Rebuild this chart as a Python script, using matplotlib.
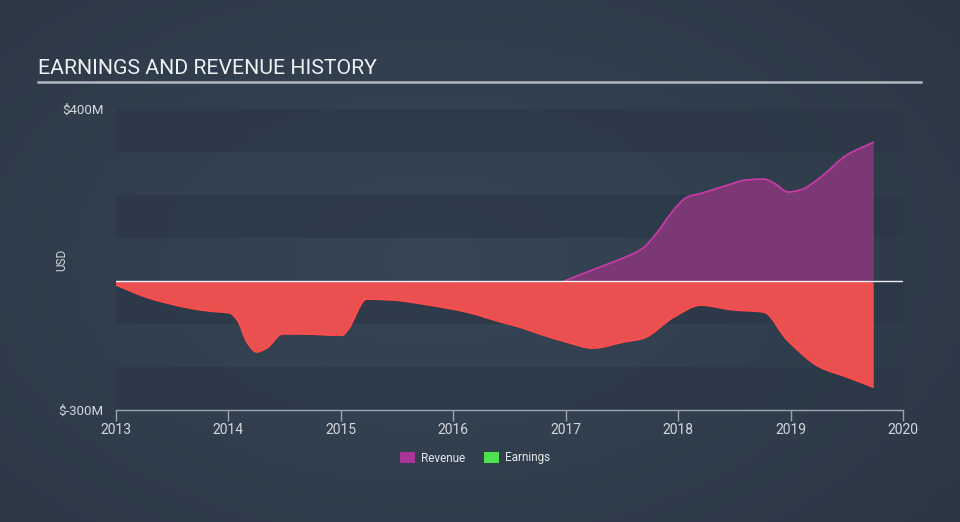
import numpy as np
import matplotlib
matplotlib.use("Agg")
import matplotlib.pyplot as plt
from matplotlib.patches import Rectangle, PathPatch
from matplotlib.path import Path

plt.rcParams['font.family'] = ['Roboto', 'DejaVu Sans']

# ---- data (USD millions) ----
earn_t = [2013.00, 2013.30, 2013.66, 2013.84, 2014.01, 2014.08, 2014.17, 2014.25, 2014.34,
          2014.48, 2014.64, 2015.01, 2015.06, 2015.23, 2015.46, 2015.79, 2016.12, 2016.42,
          2016.59, 2016.77, 2017.01, 2017.24, 2017.51, 2017.69, 2017.96, 2018.20, 2018.49,
          2018.76, 2018.97, 2019.26, 2019.50, 2019.74]
earn_v = [-9, -40, -63, -70, -74, -91, -144, -165, -156,
          -123, -123, -126, -114, -42, -44, -56, -72, -95,
          -107, -123, -142, -156, -142, -133, -84, -56, -67,
          -72, -137, -200, -223, -247]
rev_t = [2016.99, 2017.24, 2017.57, 2017.69, 2017.81, 2017.96, 2018.08, 2018.22, 2018.44,
         2018.61, 2018.76, 2018.85, 2018.98, 2019.09, 2019.26, 2019.50, 2019.74]
rev_v = [0, 26, 60, 77, 112, 165, 195, 205, 223,
         235, 237, 228, 207, 212, 240, 293, 323]
year_ticks = [2013, 2014, 2015, 2016, 2017, 2018, 2019, 2020]
y_labels = {400: "$400M", -300: "$-300M"}


def smooth_path_codes(t, v):
    """Catmull-Rom style Bezier segments through the data points."""
    t = np.asarray(t, float)
    v = np.asarray(v, float)
    n = len(t)
    verts = [(t[0], v[0])]
    codes = [Path.MOVETO]
    for i in range(n - 1):
        # tangents (monotone-x)
        def slope(k):
            if k == 0:
                return (v[1] - v[0]) / (t[1] - t[0])
            if k == n - 1:
                return (v[-1] - v[-2]) / (t[-1] - t[-2])
            s1 = (v[k] - v[k - 1]) / (t[k] - t[k - 1])
            s2 = (v[k + 1] - v[k]) / (t[k + 1] - t[k])
            if s1 * s2 <= 0:
                return 0.0
            return 2 / (1 / s1 + 1 / s2)
        h = t[i + 1] - t[i]
        m0, m1 = slope(i), slope(i + 1)
        verts += [(t[i] + h / 3, v[i] + m0 * h / 3),
                  (t[i + 1] - h / 3, v[i + 1] - m1 * h / 3),
                  (t[i + 1], v[i + 1])]
        codes += [Path.CURVE4] * 3
    return verts, codes


def draw_area(ax, t, v, fill, line):
    verts, codes = smooth_path_codes(t, v)
    ax.add_patch(PathPatch(Path(verts, codes), fill=False, edgecolor=line, lw=1.3, zorder=3))
    fv = verts + [(t[-1], 0), (t[0], 0), (t[0], v[0])]
    fc = codes + [Path.LINETO, Path.LINETO, Path.CLOSEPOLY]
    ax.add_patch(PathPatch(Path(fv, fc), facecolor=fill, edgecolor='none', lw=0, zorder=2))


W, H = 960, 522
fig = plt.figure(figsize=(W / 100, H / 100), dpi=100)

# background gradient
bg = fig.add_axes([0, 0, 1, 1], zorder=-10)
gx = np.linspace(0, 1, 200)
gy = np.linspace(0, 1, 120)
X, Y = np.meshgrid(gx, gy)
d = np.clip(1 - np.sqrt(((X - 0.45) / 0.7) ** 2 + ((Y - 0.5) / 0.8) ** 2), 0, 1)
c0 = np.array([0x2c, 0x37, 0x45]) / 255
c1 = np.array([0x36, 0x46, 0x56]) / 255
img = c0[None, None, :] + (c1 - c0)[None, None, :] * d[..., None]
bg.imshow(img, extent=[0, 1, 0, 1], aspect='auto', origin='lower')
bg.set_axis_off()

ax = fig.add_axes([116 / W, 1 - 410 / H, (903 - 116) / W, (410 - 109) / H])
ax.set_facecolor('none')
ax.set_xlim(2013, 2020)
ax.set_ylim(-300, 400)

# bands
for lo in [300, 100, -100, -300]:
    ax.axhspan(lo, lo + 100, color='#2c3847', alpha=0.75, lw=0, zorder=0)

draw_area(ax, rev_t, rev_v, '#7b3874', '#c43ca3')
draw_area(ax, earn_t, earn_v, '#eb5050', '#ff4d4d')
ax.axhline(0, color='#f0f0f0', lw=1, zorder=4)

for s in ['top', 'right', 'left']:
    ax.spines[s].set_visible(False)
ax.spines['bottom'].set_color('#9aa5b1')
ax.spines['bottom'].set_linewidth(1)
ax.set_xticks(year_ticks)
ax.set_xticklabels([str(y) for y in year_ticks])
ax.tick_params(axis='x', colors='#9aa5b1', length=8, width=1, labelcolor='#d4d8dc', labelsize=10, pad=1)
ax.set_yticks(list(y_labels.keys()))
ax.set_yticklabels(list(y_labels.values()))
ax.tick_params(axis='y', length=0, labelcolor='#d4d8dc', labelsize=9.5, pad=9)

fig.text(62 / W, 1 - 260 / H, 'USD', color='#d4d8dc', fontsize=8.5, rotation=90,
         va='center', ha='center')

# title and underline
fig.text(38 / W, 1 - 68 / H, 'EARNINGS AND REVENUE HISTORY', color='#eef0f2', fontsize=15.3,
         va='center', ha='left')
fig.add_artist(plt.Line2D([38 / W, 921 / W], [1 - 82 / H, 1 - 82 / H], color='#b3b8be', lw=1.8))

# legend
for x0, col, lab in [(400, '#a93597', 'Revenue'), (484, '#4fe04f', 'Earnings')]:
    fig.add_artist(Rectangle((x0 / W, 1 - 463 / H), 15 / W, 11 / H, color=col, lw=0))
    fig.text((x0 + 21) / W, 1 - 458 / H, lab, color='#e6e8ea', fontsize=8.5, va='center', ha='left')

fig.savefig('out.png', dpi=100)
